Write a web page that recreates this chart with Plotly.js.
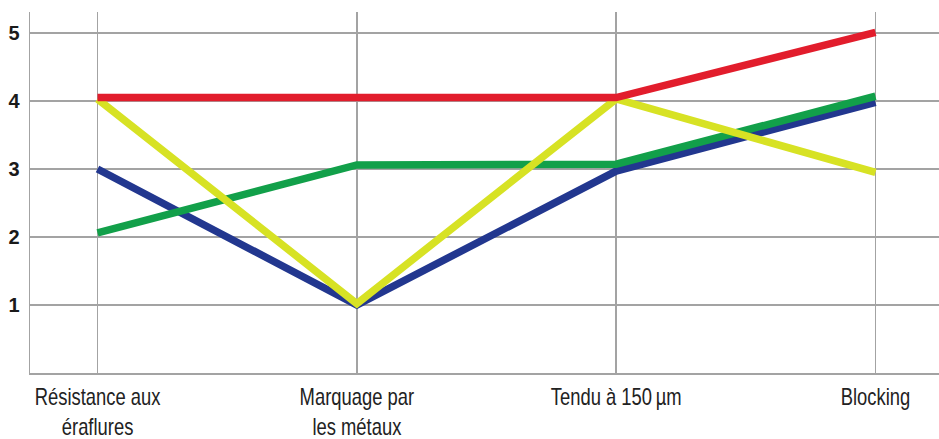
<!DOCTYPE html>
<html>
<head>
<meta charset="utf-8">
<script src="https://cdn.plot.ly/plotly-3.0.1.min.js"></script>
<style>
html,body{margin:0;padding:0;background:#fff;}
#chart{width:939px;height:439px;}
</style>
</head>
<body>
<div id="chart"></div>
<script>
const categories = ["Résistance aux<br>éraflures", "Marquage par<br>les métaux", "Tendu à 150\u2009µm", "Blocking"];
const blueValues = [3.0, 1.0, 2.97, 3.98];
const greenValues = [2.06, 3.06, 3.07, 4.07];
const yellowValues = [4.03, 1.02, 4.03, 2.95];
const redValues = [4.05, 4.05, 4.05, 5.01];
const yTicks = [1, 2, 3, 4, 5];

const series = [
  {name: "Bleu", y: blueValues, color: "#22378f"},
  {name: "Vert", y: greenValues, color: "#12a04a"},
  {name: "Jaune", y: yellowValues, color: "#d7e224"},
  {name: "Rouge", y: redValues, color: "#e21d2c"}
];

const traces = series.map(s => ({
  type: "scatter",
  mode: "lines",
  name: s.name,
  x: [0, 1, 2, 3],
  y: s.y,
  line: {color: s.color, width: 7.5},
  hoverinfo: "skip"
}));

const layout = {
  width: 939, height: 439,
  margin: {l: 30, r: 0, t: 12, b: 66, pad: 0},
  paper_bgcolor: "#ffffff", plot_bgcolor: "#ffffff",
  showlegend: false,
  xaxis: {
    type: "linear",
    range: [-0.2603, 3.2449],
    tickvals: [0, 1, 2, 3],
    ticktext: categories,
    showgrid: true, gridcolor: "#a3a3a3", gridwidth: 1.5,
    zeroline: false,
    showline: true, linecolor: "#a3a3a3", linewidth: 1.5,
    ticks: "", ticklabelstandoff: 3,
    tickfont: {family: "'Liberation Sans', Arial, sans-serif", size: 23, color: "#222222"},
    fixedrange: true
  },
  yaxis: {
    range: [0, 5.309],
    tickvals: yTicks,
    ticktext: yTicks.map(String),
    showgrid: true, gridcolor: "#a3a3a3", gridwidth: 1.5,
    zeroline: false,
    showline: true, linecolor: "#a3a3a3", linewidth: 1.5,
    ticks: "", ticklabelstandoff: 5,
    tickfont: {family: "'Liberation Sans', Arial, sans-serif", size: 20, color: "#1a1a1a", weight: "bold"},
    fixedrange: true
  }
};

function condense() {
  document.querySelectorAll("#chart .xtick text").forEach(t => {
    if (t.dataset.condensed) return;
    const bb = t.getBBox();
    const cx = bb.x + bb.width / 2;
    const orig = t.getAttribute("transform") || "";
    t.setAttribute("transform", orig + " translate(" + cx + " 0) scale(0.8 1) translate(" + (-cx) + " 0)");
    t.dataset.condensed = "1";
  });
}

Plotly.newPlot("chart", traces, layout, {displayModeBar: false, staticPlot: true}).then(condense);
</script>
</body>
</html>
